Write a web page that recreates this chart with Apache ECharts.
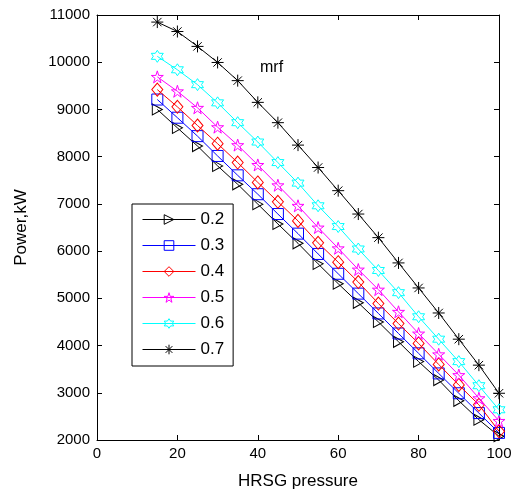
<!DOCTYPE html>
<html>
<head>
<meta charset="utf-8">
<script src="https://cdn.jsdelivr.net/npm/echarts@6/dist/echarts.min.js"></script>
<style>
  html, body { margin: 0; padding: 0; background: #fff; }
  #chart { width: 516px; height: 495px; }
</style>
</head>
<body>
<div id="chart"></div>
<script>
// HRSG pressure points
const pressure = [15, 20, 25, 30, 35, 40, 45, 50, 55, 60, 65, 70, 75, 80, 85, 90, 95, 100];
const seriesNames = ['0.2', '0.3', '0.4', '0.5', '0.6', '0.7'];

const power02 = [9000, 8610, 8225, 7805, 7415, 6995, 6575, 6165, 5730, 5310, 4905, 4500, 4080, 3660, 3270, 2830, 2430, 2080];
const power03 = [9210, 8825, 8435, 8015, 7605, 7205, 6785, 6370, 5940, 5520, 5100, 4680, 4255, 3835, 3410, 2990, 2570, 2150];
const power04 = [9420, 9055, 8660, 8275, 7875, 7455, 7045, 6640, 6175, 5765, 5345, 4890, 4465, 4045, 3600, 3165, 2745, 2185];
const power05 = [9690, 9385, 9035, 8625, 8245, 7825, 7395, 6960, 6500, 6060, 5610, 5185, 4715, 4255, 3815, 3375, 2885, 2405];
const power06 = [10125, 9840, 9525, 9140, 8720, 8310, 7875, 7440, 6960, 6520, 6045, 5590, 5120, 4610, 4135, 3660, 3150, 2640];
const power07 = [10850, 10650, 10335, 9995, 9610, 9150, 8720, 8245, 7770, 7280, 6785, 6285, 5750, 5220, 4690, 4135, 3585, 2990];

const allPower = [power02, power03, power04, power05, power06, power07];

const colors = ['#000000', '#0000ff', '#ff0000', '#ff00ff', '#00ffff', '#000000'];
const symbols = [
  'path://M0,0L2,1L0,2Z',
  'rect',
  'path://M0,-1L0.75,0L0,1L-0.75,0Z',
  'path://M0,-1L0.225,-0.309L0.951,-0.309L0.363,0.118L0.588,0.809L0,0.382L-0.588,0.809L-0.363,0.118L-0.951,-0.309L-0.225,-0.309Z',
  'path://M0,-1L0.289,-0.5L0.866,-0.5L0.577,0L0.866,0.5L0.289,0.5L0,1L-0.289,0.5L-0.866,0.5L-0.577,0L-0.866,-0.5L-0.289,-0.5Z',
  'path://M0,-1L0,1M-1,0L1,0M-0.7,-0.7L0.7,0.7M-0.7,0.7L0.7,-0.7'
];
const symbolSizes = [[10, 11], 11, [11, 13], 12, 12, 12];

const chart = echarts.init(document.getElementById('chart'));
const font = 'Liberation Sans, Arial, Helvetica, sans-serif';

const series = seriesNames.map((name, i) => ({
  name: name,
  type: 'line',
  xAxisIndex: 0,
  yAxisIndex: 0,
  data: pressure.map((p, j) => [p, allPower[i][j]]),
  symbol: symbols[i],
  symbolSize: symbolSizes[i],
  showAllSymbol: true,
  lineStyle: { color: colors[i], width: 1 },
  itemStyle: { color: 'none', borderColor: colors[i], borderWidth: 1 },
  emphasis: { disabled: true },
  z: 2 + i
}));

const legendData = seriesNames.map((name, i) => ({
  name: name,
  itemStyle: { color: 'none', borderColor: colors[i], borderWidth: 1 },
  lineStyle: { color: colors[i], width: 1 }
}));

const option = {
  animation: false,
  backgroundColor: '#fff',
  grid: { left: 97, right: 17, top: 15, bottom: 53, containLabel: false },
  xAxis: [
    {
      type: 'value', min: 0, max: 100, interval: 20,
      name: 'HRSG pressure', nameLocation: 'middle', nameGap: 33,
      nameTextStyle: { fontFamily: font, fontSize: 17, color: '#000' },
      axisLine: { show: true, onZero: false, lineStyle: { color: '#000', width: 1 } },
      axisTick: { show: true, inside: true, length: 5, lineStyle: { color: '#000' } },
      axisLabel: { fontFamily: font, fontSize: 15, color: '#000', margin: 6 },
      splitLine: { show: false }
    },
    {
      type: 'value', min: 0, max: 100, interval: 20, position: 'top',
      axisLine: { show: true, onZero: false, lineStyle: { color: '#000', width: 1 } },
      axisTick: { show: true, inside: true, length: 5, lineStyle: { color: '#000' } },
      axisLabel: { show: false },
      splitLine: { show: false }
    }
  ],
  yAxis: [
    {
      type: 'value', min: 2000, max: 11000, interval: 1000,
      name: 'Power,kW', nameLocation: 'middle', nameGap: 67,
      nameTextStyle: { fontFamily: font, fontSize: 17, color: '#000' },
      axisLine: { show: true, onZero: false, lineStyle: { color: '#000', width: 1 } },
      axisTick: { show: true, inside: true, length: 5, lineStyle: { color: '#000' } },
      axisLabel: { fontFamily: font, fontSize: 15, color: '#000', margin: 7, formatter: v => String(v) },
      splitLine: { show: false }
    },
    {
      type: 'value', min: 2000, max: 11000, interval: 1000, position: 'right',
      axisLine: { show: true, onZero: false, lineStyle: { color: '#000', width: 1 } },
      axisTick: { show: true, inside: true, length: 5, lineStyle: { color: '#000' } },
      axisLabel: { show: false },
      splitLine: { show: false }
    }
  ],
  legend: {
    data: legendData,
    orient: 'vertical',
    left: 132,
    top: 204,
    backgroundColor: '#fff',
    borderColor: '#000',
    borderWidth: 1,
    borderRadius: 0,
    padding: [7, 9, 8, 10],
    itemWidth: 53,
    itemHeight: 12,
    itemGap: 9,
    selectedMode: false,
    lineStyle: { width: 1 },
    textStyle: { fontFamily: font, fontSize: 17, color: '#000' }
  },
  graphic: [
    {
      type: 'text', left: 260, top: 60,
      style: { text: 'mrf', fontFamily: font, fontSize: 16, fill: '#000' }
    }
  ],
  series: series
};

chart.setOption(option);
</script>
</body>
</html>
